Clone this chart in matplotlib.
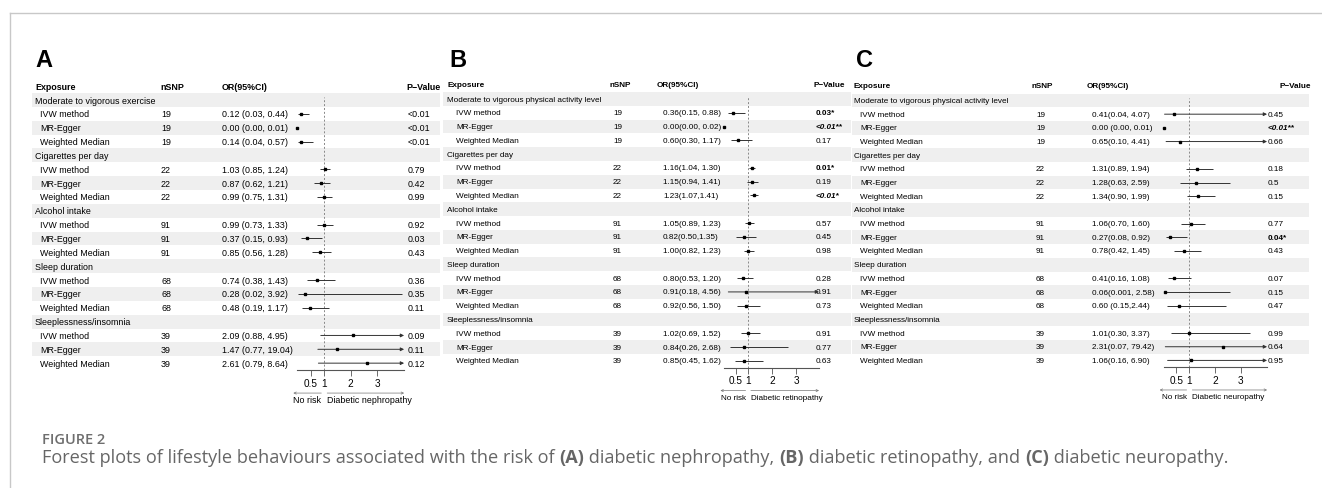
import matplotlib.pyplot as plt
from matplotlib.patches import Rectangle

W, H = 1322, 489

# ---------------- data ----------------
groups_a = ["Moderate to vigorous exercise", "Cigarettes per day", "Alcohol intake",
            "Sleep duration", "Sleeplessness/insomnia"]
groups_bc = ["Moderate to vigorous physical activity level", "Cigarettes per day",
             "Alcohol intake", "Sleep duration", "Sleeplessness/insomnia"]
methods = ["IVW method", "MR-Egger", "Weighted Median"]
nsnp = [19, 22, 91, 68, 39]

# A: diabetic nephropathy
or_a = [0.12, 0.00, 0.14, 1.03, 0.87, 0.99, 0.99, 0.37, 0.85, 0.74, 0.28, 0.48, 2.09, 1.47, 2.61]
lo_a = [0.03, 0.00, 0.04, 0.85, 0.62, 0.75, 0.73, 0.15, 0.56, 0.38, 0.02, 0.19, 0.88, 0.77, 0.79]
hi_a = [0.44, 0.01, 0.57, 1.24, 1.21, 1.31, 1.33, 0.93, 1.28, 1.43, 3.92, 1.17, 4.95, 19.04, 8.64]
txt_a = ["0.12 (0.03, 0.44)", "0.00 (0.00, 0.01)", "0.14 (0.04, 0.57)",
         "1.03 (0.85, 1.24)", "0.87 (0.62, 1.21)", "0.99 (0.75, 1.31)",
         "0.99 (0.73, 1.33)", "0.37 (0.15, 0.93)", "0.85 (0.56, 1.28)",
         "0.74 (0.38, 1.43)", "0.28 (0.02, 3.92)", "0.48 (0.19, 1.17)",
         "2.09 (0.88, 4.95)", "1.47 (0.77, 19.04)", "2.61 (0.79, 8.64)"]
p_a = ["<0.01", "<0.01", "<0.01", "0.79", "0.42", "0.99", "0.92", "0.03", "0.43",
       "0.36", "0.35", "0.11", "0.09", "0.11", "0.12"]
ps_a = [""] * 15

# B: diabetic retinopathy
or_b = [0.36, 0.00, 0.60, 1.16, 1.15, 1.23, 1.05, 0.82, 1.00, 0.80, 0.91, 0.92, 1.02, 0.84, 0.85]
lo_b = [0.15, 0.00, 0.30, 1.04, 0.94, 1.07, 0.89, 0.50, 0.82, 0.53, 0.18, 0.56, 0.69, 0.26, 0.45]
hi_b = [0.88, 0.02, 1.17, 1.30, 1.41, 1.41, 1.23, 1.35, 1.23, 1.20, 4.56, 1.50, 1.52, 2.68, 1.62]
txt_b = ["0.36(0.15, 0.88)", "0.00(0.00, 0.02)", "0.60(0.30, 1.17)",
         "1.16(1.04, 1.30)", "1.15(0.94, 1.41)", "1.23(1.07,1.41)",
         "1.05(0.89, 1.23)", "0.82(0.50,1.35)", "1.00(0.82, 1.23)",
         "0.80(0.53, 1.20)", "0.91(0.18, 4.56)", "0.92(0.56, 1.50)",
         "1.02(0.69, 1.52)", "0.84(0.26, 2.68)", "0.85(0.45, 1.62)"]
p_b = ["0.03*", "<0.01**", "0.17", "0.01*", "0.19", "<0.01*", "0.57", "0.45", "0.98",
       "0.28", "0.91", "0.73", "0.91", "0.77", "0.63"]
ps_b = ["b", "bi", "", "b", "", "bi", "", "", "", "", "", "", "", "", ""]

# C: diabetic neuropathy
or_c = [0.41, 0.00, 0.65, 1.31, 1.28, 1.34, 1.06, 0.27, 0.78, 0.41, 0.06, 0.60, 1.01, 2.31, 1.06]
lo_c = [0.04, 0.00, 0.10, 0.89, 0.63, 0.90, 0.70, 0.08, 0.42, 0.16, 0.001, 0.15, 0.30, 0.07, 0.16]
hi_c = [4.07, 0.01, 4.41, 1.94, 2.59, 1.99, 1.60, 0.92, 1.45, 1.08, 2.58, 2.44, 3.37, 79.42, 6.90]
txt_c = ["0.41(0.04, 4.07)", "0.00 (0.00, 0.01)", "0.65(0.10, 4.41)",
         "1.31(0.89, 1.94)", "1.28(0.63, 2.59)", "1.34(0.90, 1.99)",
         "1.06(0.70, 1.60)", "0.27(0.08, 0.92)", "0.78(0.42, 1.45)",
         "0.41(0.16, 1.08)", "0.06(0.001, 2.58)", "0.60 (0.15,2.44)",
         "1.01(0.30, 3.37)", "2.31(0.07, 79.42)", "1.06(0.16, 6.90)"]
p_c = ["0.45", "<0.01**", "0.66", "0.18", "0.5", "0.15", "0.77", "0.04*", "0.43",
       "0.07", "0.15", "0.47", "0.99", "0.64", "0.95"]
ps_c = ["", "bi", "", "", "", "", "", "b", "", "", "", "", "", "", ""]

ticks = [0.5, 1, 2, 3]
tick_labels = ["0.5", "1", "2", "3"]

# ---------------- layout (pixels) ----------------
layouts = [
    dict(letter="A", lx=35, hy=88, y0=101, dy=13.85, gx=35, mx=40, nhx=160, nx=161,
         ohx=222, ox=222, phx=406, px=408, s0=32, s1=440, f0=297.3, xmax=4.0, scale=26.7, fs=6.4),
    dict(letter="B", lx=449, hy=85.5, y0=100, dy=13.78, gx=447, mx=456, nhx=610, nx=613,
         ohx=657, ox=663, phx=813, px=816, s0=443, s1=851, f0=724, xmax=3.96, scale=24.0, fs=5.9),
    dict(letter="C", lx=856, hy=87, y0=101.5, dy=13.68, gx=854, mx=860, nhx=1032, nx=1036,
         ohx=1087, ox=1092, phx=1279, px=1268, s0=852, s1=1309, f0=1163.5, xmax=4.03, scale=25.7, fs=5.9),
]
panels = [
    (groups_a, or_a, lo_a, hi_a, txt_a, p_a, ps_a, "Diabetic nephropathy"),
    (groups_bc, or_b, lo_b, hi_b, txt_b, p_b, ps_b, "Diabetic retinopathy"),
    (groups_bc, or_c, lo_c, hi_c, txt_c, p_c, ps_c, "Diabetic neuropathy"),
]

FONT = "Liberation Sans"
stripe = "#efefef"
line_col = "#333333"

fig = plt.figure(figsize=(W / 100, H / 100), dpi=100)
bg = fig.add_axes([0, 0, 1, 1])
bg.set_xlim(0, W)
bg.set_ylim(H, 0)
bg.axis("off")

# page frame
bg.plot([10, W], [14, 14], color="#c8c8c8", lw=1)
bg.plot([10, 10], [14, H], color="#c8c8c8", lw=1)


def draw_panel(L, groups, ors, los, his, txts, pv, pst, outcome):
    fs = L["fs"]
    y0, dy = L["y0"], L["dy"]
    bg.text(L["lx"], 67, L["letter"], fontsize=17, weight="bold", family=FONT, va="baseline")

    hy = L["hy"]
    bg.text(L["gx"], hy, "Exposure", fontsize=fs, weight="bold", family=FONT, va="center")
    bg.text(L["nhx"], hy, "nSNP", fontsize=fs, weight="bold", family=FONT, va="center")
    bg.text(L["ohx"], hy, "OR(95%CI)", fontsize=fs, weight="bold", family=FONT, va="center")
    bg.text(L["phx"], hy, "P\u2212Value", fontsize=fs, weight="bold", family=FONT, va="center")

    for r in range(0, 20, 2):
        bg.add_patch(Rectangle((L["s0"], y0 + (r - 0.5) * dy), L["s1"] - L["s0"], dy,
                               color=stripe, lw=0, zorder=0))

    # forest axes
    f0 = L["f0"]
    f1 = f0 + L["xmax"] * L["scale"]
    top = y0 - dy / 2
    bot = y0 + 19.5 * dy
    ax = fig.add_axes([f0 / W, 1 - bot / H, (f1 - f0) / W, (bot - top) / H])
    ax.set_facecolor("none")
    ax.set_xlim(0, L["xmax"])
    ax.set_ylim(19.5, -0.5)
    for s in ["top", "right", "left"]:
        ax.spines[s].set_visible(False)
    ax.spines["bottom"].set_color("#555555")
    ax.spines["bottom"].set_linewidth(0.8)
    ax.set_yticks([])
    ax.set_xticks(ticks)
    ax.set_xticklabels(tick_labels, family=FONT)
    ax.tick_params(axis="x", length=4, width=0.6, color="#555555", labelsize=7.2, pad=1.5)
    ax.axvline(1, ymax=0.985, color="#888888", ls=(0, (2, 2)), lw=0.7, zorder=1)

    k = 0
    for g in range(5):
        rg = g * 4
        bg.text(L["gx"], y0 + rg * dy, groups[g], fontsize=fs, family=FONT, va="center")
        for m in range(3):
            r = rg + 1 + m
            yy = y0 + r * dy
            bg.text(L["mx"], yy, methods[m], fontsize=fs, family=FONT, va="center")
            bg.text(L["nx"], yy, str(nsnp[g]), fontsize=fs, family=FONT, va="center")
            bg.text(L["ox"], yy, txts[k], fontsize=fs, family=FONT, va="center")
            st = pst[k]
            bg.text(L["px"], yy, pv[k], fontsize=fs, family=FONT, va="center",
                    weight="bold" if "b" in st else "normal",
                    style="italic" if "i" in st else "normal")
            if his[k] > L["xmax"]:
                ax.annotate("", xy=(L["xmax"], r), xytext=(los[k], r),
                            arrowprops=dict(arrowstyle="-|>", color=line_col, lw=0.7,
                                            mutation_scale=5, shrinkA=0, shrinkB=0),
                            annotation_clip=False)
            else:
                ax.hlines(r, los[k], his[k], color=line_col, lw=0.7)
            ax.plot(ors[k], r, marker="s", ms=2.0, color="black", ls="none", clip_on=False, zorder=3)
            k += 1

    tr = ax.get_xaxis_transform()
    ya = -0.083
    ax.annotate("", xy=(-0.15, ya), xytext=(0.9, ya), xycoords=tr, textcoords=tr,
                arrowprops=dict(arrowstyle="->", color="#777777", lw=0.5,
                                mutation_scale=4, shrinkA=0, shrinkB=0), annotation_clip=False)
    ax.annotate("", xy=(L["xmax"], ya), xytext=(1.12, ya), xycoords=tr, textcoords=tr,
                arrowprops=dict(arrowstyle="->", color="#777777", lw=0.5,
                                mutation_scale=4, shrinkA=0, shrinkB=0), annotation_clip=False)
    ax.text(0.9, -0.108, "No risk", transform=tr, ha="right", va="center", fontsize=fs, family=FONT)
    ax.text(1.12, -0.108, outcome, transform=tr, ha="left", va="center", fontsize=fs, family=FONT)


for L, P in zip(layouts, panels):
    draw_panel(L, *P)

# caption
CAP = "Open Sans"
bg.text(42, 440, "FIGURE 2", fontsize=10.5, weight="semibold", color="#6e6e6e", family=CAP, va="center")
pieces = [("Forest plots of lifestyle behaviours associated with the risk of ", "normal"),
          ("(A)", "bold"), (" diabetic nephropathy, ", "normal"), ("(B)", "bold"),
          (" diabetic retinopathy, and ", "normal"), ("(C)", "bold"),
          (" diabetic neuropathy.", "normal")]
renderer = fig.canvas.get_renderer()
x = 42
for s, w in pieces:
    t = bg.text(x, 458, s, fontsize=13.1, weight=w, color="#666666", family=CAP, va="center")
    x += t.get_window_extent(renderer).width

fig.savefig("out.png", dpi=100)
